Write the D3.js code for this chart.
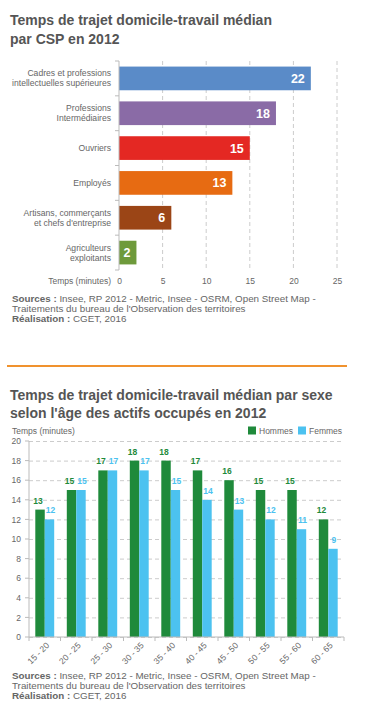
<!DOCTYPE html>
<html>
<head>
<meta charset="utf-8">
<script src="https://cdn.jsdelivr.net/npm/d3@7"></script>
<style>
  body { margin: 0; background: #fff; font-family: "Liberation Sans", Arial, sans-serif; }
  svg text { font-family: "Liberation Sans", Arial, sans-serif; }
</style>
</head>
<body>
<svg id="chart" width="370" height="717"></svg>
<script>
// Chart 1: median commute by socio-professional category
var cspLabels = [
  ['Cadres et professions', 'intellectuelles supérieures'],
  ['Professions', 'Intermédiaires'],
  ['Ouvriers'],
  ['Employés'],
  ['Artisans, commerçants', 'et chefs d\'entreprise'],
  ['Agriculteurs', 'exploitants']
];
var cspValues = [22, 18, 15, 13, 6, 2];
var cspColors = ['#5a8bc8', '#8a6ba6', '#e42823', '#e76b12', '#9b4516', '#6e9a3b'];
var cspTicks = [0, 5, 10, 15, 20, 25];

// Chart 2: median commute by sex and age
var ageGroups = ['15 - 20', '20 - 25', '25 - 30', '30 - 35', '35 - 40', '40 - 45', '45 - 50', '50 - 55', '55 - 60', '60 - 65'];
var hommes = [13, 15, 17, 18, 18, 17, 16, 15, 15, 12];
var femmes = [12, 15, 17, 17, 15, 14, 13, 12, 11, 9];
var sexSeries = ['Hommes', 'Femmes'];
var sexColors = ['#1f8a3b', '#4cc2f0'];
var ageTicks = [0, 2, 4, 6, 8, 10, 12, 14, 16, 18, 20];

var svg = d3.select('#chart');
var grey = '#666';

function sources(y) {
  var t = svg.append('text').attr('x', 12).attr('y', y).attr('font-size', 9.8).attr('fill', grey);
  t.append('tspan').attr('font-weight', 'bold').text('Sources : ');
  t.append('tspan').text('Insee, RP 2012 - Metric, Insee - OSRM, Open Street Map -');
  svg.append('text').attr('x', 12).attr('y', y + 10).attr('font-size', 9.8).attr('fill', grey)
    .text('Traitements du bureau de l\'Observation des territoires');
  var t3 = svg.append('text').attr('x', 12).attr('y', y + 20).attr('font-size', 9.8).attr('fill', grey);
  t3.append('tspan').attr('font-weight', 'bold').text('Réalisation : ');
  t3.append('tspan').text('CGET, 2016');
}

// ---- Chart 1 ----
svg.append('text').attr('x', 10).attr('y', 25).attr('font-size', 14).attr('font-weight', 'bold')
  .attr('fill', '#555').text('Temps de trajet domicile-travail médian');
svg.append('text').attr('x', 10).attr('y', 44).attr('font-size', 14).attr('font-weight', 'bold')
  .attr('fill', '#555').text('par CSP en 2012');

var x1 = d3.scaleLinear().domain([0, 25]).range([119, 337]);
var y1 = d3.scaleBand().domain(d3.range(cspValues.length)).range([61, 270]).paddingInner(0.32).paddingOuter(0.16);

var g1 = svg.append('g');
g1.selectAll('line.grid').data(cspTicks.slice(1)).join('line')
  .attr('x1', function (d) { return x1(d); }).attr('x2', function (d) { return x1(d); })
  .attr('y1', 61).attr('y2', 270)
  .attr('stroke', '#ccc').attr('stroke-dasharray', '4,3');

g1.selectAll('rect').data(cspValues).join('rect')
  .attr('x', x1(0)).attr('y', function (d, i) { return y1(i); })
  .attr('width', function (d) { return x1(d) - x1(0); })
  .attr('height', y1.bandwidth())
  .attr('fill', function (d, i) { return cspColors[i]; });

g1.selectAll('text.val').data(cspValues).join('text')
  .attr('x', function (d) { return x1(d) - 6; })
  .attr('y', function (d, i) { return y1(i) + y1.bandwidth() / 2 + 4.5; })
  .attr('text-anchor', 'end').attr('font-size', 12.5).attr('font-weight', 'bold').attr('fill', '#fff')
  .text(function (d) { return d; });

// vertical axis with band-edge ticks
g1.append('line').attr('x1', 119).attr('x2', 119).attr('y1', 61).attr('y2', 270).attr('stroke', '#bbb');
var edges = d3.range(cspValues.length + 1).map(function (i) { return 61 + i * (209 / cspValues.length); });
g1.selectAll('line.tk').data(edges).join('line')
  .attr('x1', 115).attr('x2', 119)
  .attr('y1', function (d) { return d; }).attr('y2', function (d) { return d; })
  .attr('stroke', '#bbb');

cspLabels.forEach(function (lines, i) {
  var cy = y1(i) + y1.bandwidth() / 2;
  var t = g1.append('text').attr('text-anchor', 'end').attr('font-size', 8.6).attr('fill', grey);
  lines.forEach(function (l, j) {
    t.append('tspan').attr('x', 111)
      .attr('y', cy + 3 + (j - (lines.length - 1) / 2) * 10)
      .text(l);
  });
});

var ax1 = d3.axisBottom(x1).tickValues(cspTicks).tickSize(0).tickPadding(8);
var ax1g = g1.append('g').attr('transform', 'translate(0,270)').call(ax1);
ax1g.select('.domain').remove();
ax1g.selectAll('text').attr('font-size', 8.5).attr('fill', grey);
g1.append('text').attr('x', 111).attr('y', 284).attr('text-anchor', 'end').attr('font-size', 8.5)
  .attr('fill', grey).text('Temps (minutes)');

sources(302);

// separator
svg.append('line').attr('x1', 7).attr('x2', 347).attr('y1', 366).attr('y2', 366)
  .attr('stroke', '#f0922e').attr('stroke-width', 2);

// ---- Chart 2 ----
svg.append('text').attr('x', 10).attr('y', 400).attr('font-size', 14).attr('font-weight', 'bold')
  .attr('fill', '#555').text('Temps de trajet domicile-travail médian par sexe');
svg.append('text').attr('x', 10).attr('y', 418).attr('font-size', 14).attr('font-weight', 'bold')
  .attr('fill', '#555').text('selon l\'âge des actifs occupés en 2012');

svg.append('text').attr('x', 12).attr('y', 434).attr('font-size', 8.5).attr('fill', grey).text('Temps (minutes)');

var legX = [248, 298];
sexSeries.forEach(function (s, i) {
  svg.append('rect').attr('x', legX[i]).attr('y', 426.5).attr('width', 8).attr('height', 8).attr('fill', sexColors[i]);
  svg.append('text').attr('x', legX[i] + 11).attr('y', 434).attr('font-size', 8.5).attr('fill', grey).text(s);
});

var x2 = d3.scaleBand().domain(ageGroups).range([29, 344]).paddingInner(0.4).paddingOuter(0.2);
var xs = d3.scaleBand().domain(sexSeries).range([0, x2.bandwidth()]);
var y2 = d3.scaleLinear().domain([0, 20]).range([637, 441]);

var g2 = svg.append('g');
var ax2 = d3.axisLeft(y2).tickValues(ageTicks).tickSize(-(344 - 29)).tickPadding(8);
var ax2g = g2.append('g').attr('transform', 'translate(29,0)').call(ax2);
ax2g.select('.domain').remove();
ax2g.selectAll('.tick line').attr('stroke', '#ccc').attr('stroke-dasharray', '4,3');
ax2g.selectAll('.tick text').attr('font-size', 8.5).attr('fill', grey);
// small ticks left of axis
g2.selectAll('line.lt').data(ageTicks).join('line')
  .attr('x1', 25).attr('x2', 29)
  .attr('y1', function (d) { return y2(d); }).attr('y2', function (d) { return y2(d); })
  .attr('stroke', '#bbb');

var rows = ageGroups.map(function (a, i) { return { age: a, vals: [hommes[i], femmes[i]] }; });
var grp = g2.selectAll('g.grp').data(rows).join('g')
  .attr('transform', function (d) { return 'translate(' + x2(d.age) + ',0)'; });
grp.selectAll('rect').data(function (d) { return d.vals; }).join('rect')
  .attr('x', function (d, i) { return xs(sexSeries[i]); })
  .attr('y', function (d) { return y2(d); })
  .attr('width', xs.bandwidth())
  .attr('height', function (d) { return y2(0) - y2(d); })
  .attr('fill', function (d, i) { return sexColors[i]; });
grp.selectAll('text').data(function (d) { return d.vals; }).join('text')
  .attr('x', function (d, i) { return xs(sexSeries[i]) + xs.bandwidth() / 2 - (i === 0 ? 2 : -1); })
  .attr('y', function (d) { return y2(d) - 6; })
  .attr('text-anchor', 'middle').attr('font-size', 8.5).attr('font-weight', 'bold')
  .attr('fill', function (d, i) { return sexColors[i]; })
  .text(function (d) { return d; });

// axes lines
g2.append('line').attr('x1', 29).attr('x2', 29).attr('y1', 441).attr('y2', 637).attr('stroke', '#bbb');
g2.append('line').attr('x1', 29).attr('x2', 344).attr('y1', 637).attr('y2', 637).attr('stroke', '#bbb');
var xEdges = d3.range(ageGroups.length + 1).map(function (i) { return 29 + i * (315 / ageGroups.length); });
g2.selectAll('line.bt').data(xEdges).join('line')
  .attr('x1', function (d) { return d; }).attr('x2', function (d) { return d; })
  .attr('y1', 637).attr('y2', 641).attr('stroke', '#bbb');

g2.selectAll('text.age').data(ageGroups).join('text')
  .attr('text-anchor', 'end').attr('font-size', 8.5).attr('fill', grey)
  .attr('transform', function (d) { return 'translate(' + (x2(d) + x2.bandwidth() / 2 + 5) + ',646) rotate(-45)'; })
  .text(function (d) { return d; });

sources(679);
</script>
</body>
</html>
